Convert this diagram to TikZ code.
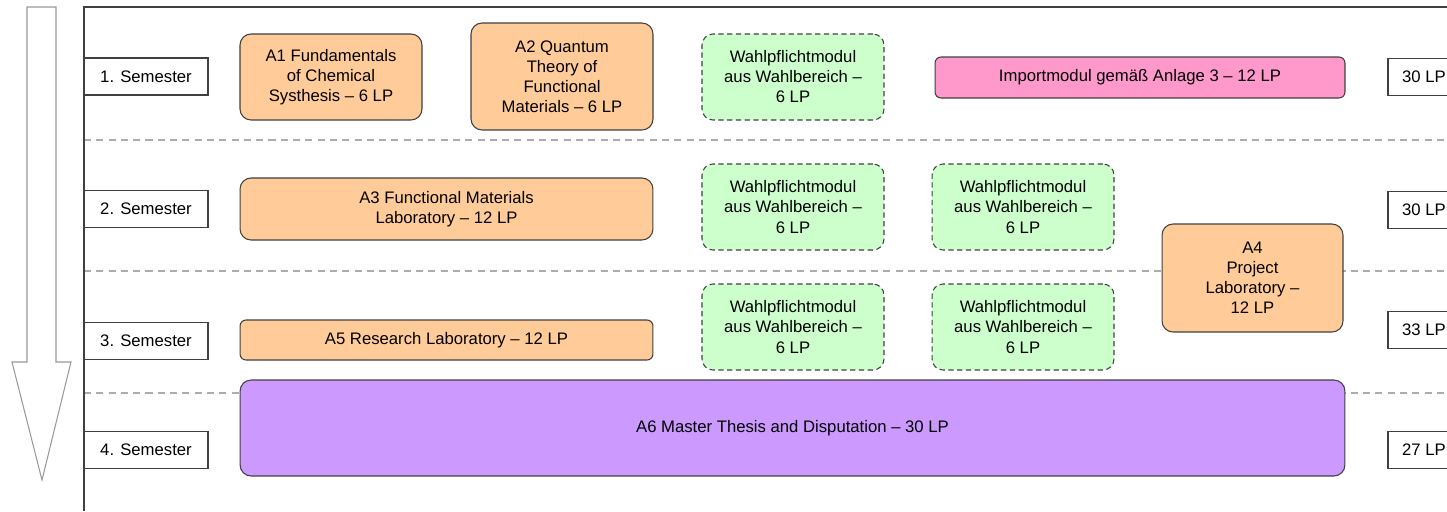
\documentclass[tikz,border=0pt]{standalone}
\usepackage{fontspec}
\setmainfont{Liberation Sans}
\usepackage{xcolor}
\usetikzlibrary{arrows.meta, positioning, calc, shapes}

\definecolor{pflicht}{HTML}{FFCC99}
\definecolor{wahl}{HTML}{CCFFCC}
\definecolor{import}{HTML}{FF99CC}
\definecolor{thesis}{HTML}{CC99FF}
\definecolor{rahmen}{HTML}{404040}

\begin{document}
\begin{tikzpicture}[x=0.02cm, y=-0.02cm,
  every node/.style={font=\fontsize{9.5}{11.4}\selectfont, align=center, inner sep=0pt},
  sembox/.style={draw=rahmen, line width=0.7pt, fill=white, minimum width=2.48cm, minimum height=0.74cm},
  lpbox/.style={draw=rahmen, line width=0.7pt, fill=white, minimum width=1.44cm, minimum height=0.74cm},
  modul/.style={draw=rahmen, line width=0.6pt, rounded corners=0.22cm},
  pmodul/.style={modul, fill=pflicht},
  wmodul/.style={modul, fill=wahl, dashed, dash pattern=on 3pt off 2pt,
                 minimum width=3.64cm, minimum height=1.72cm},
  trenner/.style={gray!65, line width=0.85pt, dash pattern=on 4pt off 3pt}]
  \clip (0,0) rectangle (1447,511);

  % LEFT: time arrow
  \draw[gray!80, line width=0.6pt, fill=white]
    (27,7) -- (56,7) -- (56,362) -- (71,362) -- (42,480) -- (12,362) -- (27,362) -- cycle;

  % frame and semester separators
  \draw[trenner] (84,140) -- (1447,140);
  \draw[trenner] (84,271) -- (1447,271);
  \draw[trenner] (84,393) -- (1447,393);
  \draw[rahmen, line width=1pt] (84,511) -- (84,7) -- (1447,7);

  % semesters
  \node[sembox] (sem1) at (146,76.5) {1. Semester};
  \node[sembox] (sem2) at (146,209) {2. Semester};
  \node[sembox] (sem3) at (146,341) {3. Semester};
  \node[sembox] (sem4) at (146,450) {4. Semester};

  % credit points
  \node[lpbox] (lp1) at (1424,77) {30 LP};
  \node[lpbox] (lp2) at (1424,210) {30 LP};
  \node[lpbox] (lp3) at (1424,330) {33 LP};
  \node[lpbox] (lp4) at (1424,450) {27 LP};

  % 1. semester
  \node[pmodul, minimum width=3.64cm, minimum height=1.72cm] (a1) at (331,77)
    {A1 Fundamentals\\of Chemical\\Systhesis -- 6 LP};
  \node[pmodul, minimum width=3.64cm, minimum height=2.14cm] (a2) at (562,76.5)
    {A2 Quantum\\Theory of\\Functional\\Materials -- 6 LP};
  \node[wmodul] (wp11) at (793,77) {Wahlpflichtmodul\\aus Wahlbereich --\\6 LP};
  \node[modul, fill=import, rounded corners=0.12cm, minimum width=8.2cm, minimum height=0.82cm]
    (imp) at (1140,77.5) {Importmodul gemäß Anlage 3 -- 12 LP};

  % 2. semester
  \node[pmodul, minimum width=8.26cm, minimum height=1.24cm] (a3) at (446.5,209)
    {A3 Functional Materials\\Laboratory -- 12 LP};
  \node[wmodul] (wp21) at (793,207) {Wahlpflichtmodul\\aus Wahlbereich --\\6 LP};
  \node[wmodul] (wp22) at (1023,207) {Wahlpflichtmodul\\aus Wahlbereich --\\6 LP};
  \node[pmodul, minimum width=3.62cm, minimum height=2.16cm] (a4) at (1252.5,278)
    {A4\\Project\\Laboratory --\\12 LP};

  % 3. semester
  \node[pmodul, rounded corners=0.12cm, minimum width=8.26cm, minimum height=0.8cm] (a5) at (446.5,340)
    {A5 Research Laboratory -- 12 LP};
  \node[wmodul] (wp31) at (793,327) {Wahlpflichtmodul\\aus Wahlbereich --\\6 LP};
  \node[wmodul] (wp32) at (1023,327) {Wahlpflichtmodul\\aus Wahlbereich --\\6 LP};

  % 4. semester
  \node[modul, fill=thesis, minimum width=22.1cm, minimum height=1.92cm] (a6) at (792.5,428)
    {A6 Master Thesis and Disputation -- 30 LP};
\end{tikzpicture}
\end{document}
